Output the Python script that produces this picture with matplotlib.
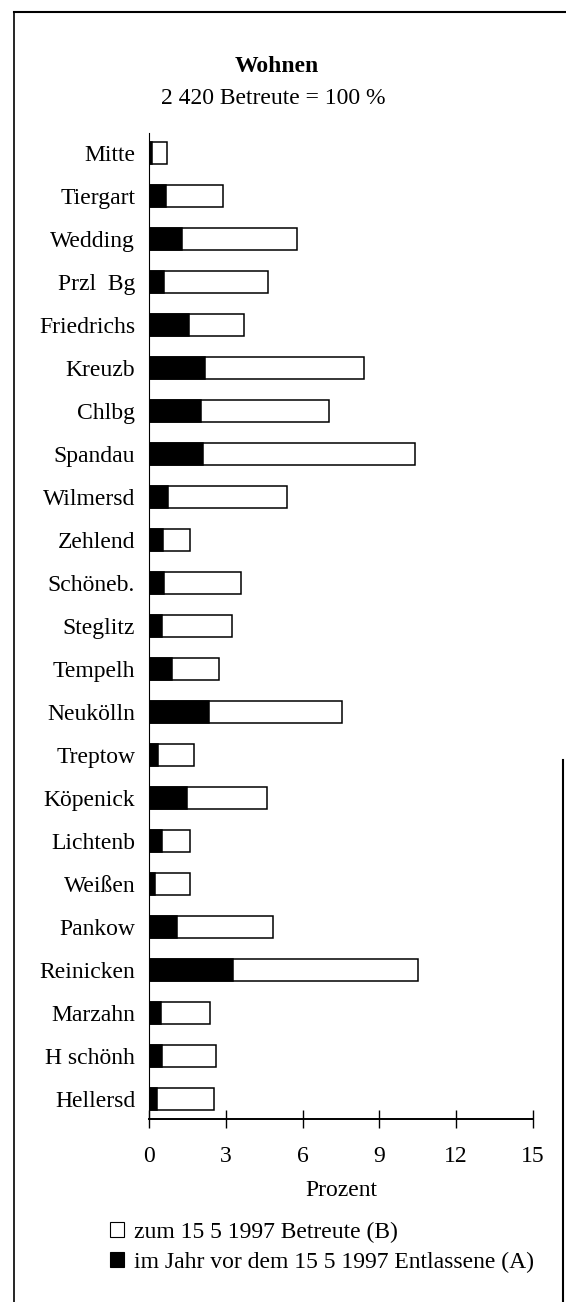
import matplotlib
matplotlib.use("Agg")
import matplotlib.pyplot as plt
from matplotlib.patches import Patch
from matplotlib.lines import Line2D

# district names (top to bottom)
bezirke = ["Mitte", "Tiergart", "Wedding", "Przl  Bg", "Friedrichs", "Kreuzb",
           "Chlbg", "Spandau", "Wilmersd", "Zehlend", "Schöneb.", "Steglitz",
           "Tempelh", "Neukölln", "Treptow", "Köpenick", "Lichtenb", "Weißen",
           "Pankow", "Reinicken", "Marzahn", "H schönh", "Hellersd"]

# zum 15 5 1997 Betreute (B), percent
betreute = [0.7, 2.9, 5.8, 4.65, 3.7, 8.4, 7.05, 10.4, 5.4, 1.6, 3.6, 3.25,
            2.75, 7.55, 1.75, 4.6, 1.6, 1.6, 4.85, 10.5, 2.4, 2.6, 2.55]

# im Jahr vor dem 15 5 1997 Entlassene (A), percent
entlassene = [0.1, 0.65, 1.3, 0.6, 1.55, 2.2, 2.05, 2.1, 0.75, 0.55, 0.6, 0.5,
              0.9, 2.35, 0.35, 1.5, 0.5, 0.25, 1.1, 3.3, 0.45, 0.5, 0.3]

x_ticks = [0, 3, 6, 9, 12, 15]

plt.rcParams["font.family"] = ["Liberation Serif", "DejaVu Serif"]
plt.rcParams["font.size"] = 17

W, H = 566, 1302
fig = plt.figure(figsize=(W / 100, H / 100), dpi=100)

# axes placed in pixel terms
left, right, top, bottom = 149, 533, 133, 1119
ax = fig.add_axes([left / W, 1 - bottom / H, (right - left) / W, (bottom - top) / H])

pos = list(range(len(bezirke)))
ax.barh(pos, betreute, height=0.51, color="white", edgecolor="black", linewidth=1.1, zorder=2)
ax.barh(pos, entlassene, height=0.51, color="black", edgecolor="black", linewidth=1.1, zorder=3)

ax.set_xlim(0, 15)
ax.set_ylim(len(bezirke) - 0.53, -0.47)
ax.set_yticks(pos)
ax.set_yticklabels(bezirke)
ax.tick_params(axis="y", length=0, pad=10)
ax.set_xticks(x_ticks)
ax.tick_params(axis="x", direction="inout", length=13, width=1, pad=13)
ax.set_xlabel("Prozent", labelpad=9)

for s in ["top", "right"]:
    ax.spines[s].set_visible(False)
ax.spines["left"].set_linewidth(0.8)
ax.spines["bottom"].set_linewidth(1.4)

# titles
fig.text(277 / W, 1 - 67 / H, "Wohnen", ha="center", va="center", fontweight="bold")
fig.text(273 / W, 1 - 98 / H, "2 420 Betreute = 100 %", ha="center", va="center")

# legend
handles = [Patch(facecolor="white", edgecolor="black", linewidth=0.8),
           Patch(facecolor="black", edgecolor="black", linewidth=0.8)]
fig.legend(handles, ["zum 15 5 1997 Betreute (B)", "im Jahr vor dem 15 5 1997 Entlassene (A)"],
           loc="upper left", bbox_to_anchor=(110 / W, 1 - 1222 / H), frameon=False,
           handlelength=0.6, handleheight=0.6, handletextpad=0.4, labelspacing=0.38,
           borderaxespad=0, borderpad=0)

# scanned page frame
fig.add_artist(Line2D([14 / W, 14 / W], [0, 1 - 12 / H], color="black", linewidth=1.2))
fig.add_artist(Line2D([14 / W, 1], [1 - 12 / H, 1 - 12 / H], color="black", linewidth=1.5))
fig.add_artist(Line2D([563 / W, 563 / W], [0, 1 - 760 / H], color="black", linewidth=1.5))

fig.savefig("out.png", dpi=100)
